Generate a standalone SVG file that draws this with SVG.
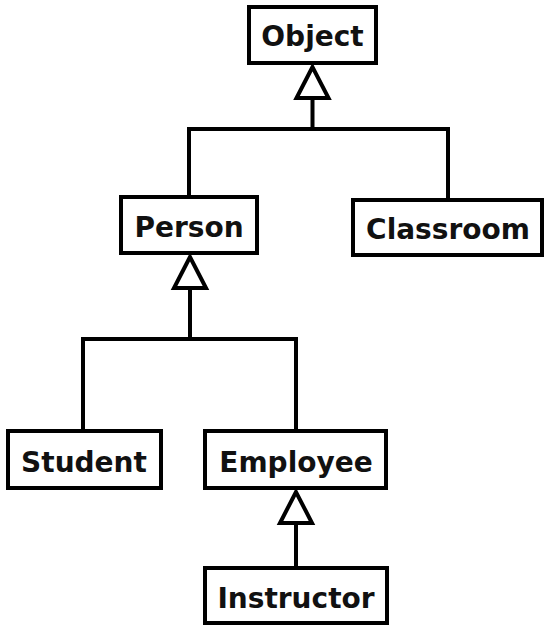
<svg xmlns="http://www.w3.org/2000/svg" width="545" height="628" viewBox="0 0 545 628">
<style>
.box{fill:#fff;stroke:#000;stroke-width:4}
.lbl{font-family:"DejaVu Sans",sans-serif;font-weight:bold;font-size:28px;fill:#111;text-anchor:middle}
.ln{fill:none;stroke:#000;stroke-width:4;stroke-linejoin:miter}
.tri{fill:#fff;stroke:#000;stroke-width:4;stroke-linejoin:miter}
</style>
<rect width="545" height="628" fill="#fff"/>
<g id="connectors">
<path class="ln" d="M189 197V129H448V200M312.5 98V129"/>
<polygon class="tri" points="312.5,67 296.5,98 328.5,98"/>
<path class="ln" d="M83 431V339H296V431M190 288V339"/>
<polygon class="tri" points="190,257 174,288 206,288"/>
<path class="ln" d="M296 523V568"/>
<polygon class="tri" points="296,492 280,523 312,523"/>
</g>
<g id="object"><rect class="box" x="249" y="7" width="127" height="56"/><text class="lbl" x="312.5" y="46">Object</text></g>
<g id="person"><rect class="box" x="121" y="197" width="136" height="56"/><text class="lbl" x="189" y="237">Person</text></g>
<g id="classroom"><rect class="box" x="353" y="200" width="189" height="55"/><text class="lbl" x="448" y="239">Classroom</text></g>
<g id="student"><rect class="box" x="8" y="431" width="153" height="57"/><text class="lbl" x="84" y="472">Student</text></g>
<g id="employee"><rect class="box" x="205" y="431" width="181" height="57"/><text class="lbl" x="296" y="472">Employee</text></g>
<g id="instructor"><rect class="box" x="205" y="568" width="182" height="55"/><text class="lbl" x="296" y="608">Instructor</text></g>
</svg>
